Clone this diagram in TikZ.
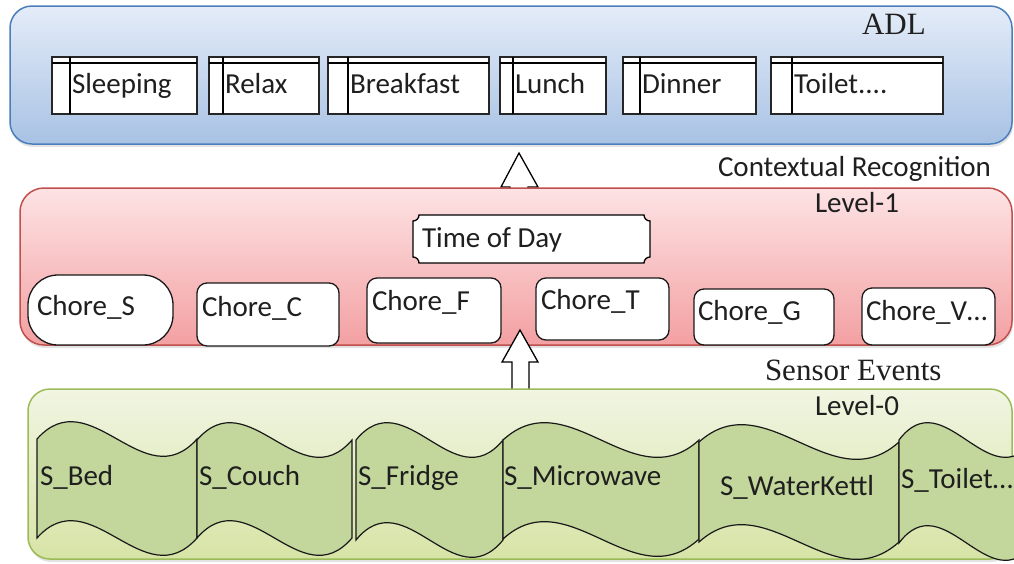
\documentclass[tikz,border=0pt]{standalone}
\usepackage{fontspec}
\setmainfont{Carlito}
\newfontfamily\titlefont{Liberation Serif}
\usetikzlibrary{calc,shadows}

\definecolor{txt}{HTML}{1F1F1F}
\definecolor{blueedge}{HTML}{4A7EBB}
\definecolor{bluetop}{HTML}{E4ECF8}
\definecolor{bluebot}{HTML}{A8C2E4}
\definecolor{rededge}{HTML}{C0504D}
\definecolor{redtop}{HTML}{FDE3E4}
\definecolor{redbot}{HTML}{F3A0A2}
\definecolor{greenedge}{HTML}{9BBB59}
\definecolor{greentop}{HTML}{F1F5E2}
\definecolor{greenbot}{HTML}{D7E4A6}
\definecolor{wavefill}{HTML}{C3D69B}

% storage-style activity box: name, left, right, divider x, label
\newcommand\adlbox[5]{%
  \node[store, anchor=north west, minimum width={#3-#2}, minimum height=57] (#1) at (#2,57) {};
  \draw[line width=1.6pt] ($(#1.north west)+(#4-#2,0)$) -- ($(#1.south west)+(#4-#2,0)$);
  \draw[line width=1.1pt] ($(#1.north west)+(0,6)$) -- ($(#1.north east)+(0,6)$);
  \node[anchor=base west] (#1-label) at ($(#1.north west)+(#4-#2+2,36)$) {#5};
}

% chore box: name, left, top, width, height, corner radius, label dx, label dy, label
\newcommand\chorebox[9]{%
  \node[chore, rounded corners=#6, anchor=north west, minimum width=#4, minimum height=#5] (#1) at (#2,#3) {};
  \node[anchor=base west] (#1-label) at ($(#1.north west)+(#7,#8)$) {#9};
}

% wave-shaped sensor cell: left, right, top mid line, bottom mid line
\newcommand\wavecell[4]{%
  \draw[wave] (#1,#3) .. controls ({#1+(#2-#1)/3},{#3-60}) and ({#1+2*(#2-#1)/3},{#3+60}) .. (#2,#3)
    -- (#2,#4) .. controls ({#1+2*(#2-#1)/3},{#4+60}) and ({#1+(#2-#1)/3},{#4-60}) .. (#1,#4) -- cycle;
}

\begin{document}
\begin{tikzpicture}[x=1pt,y=-1pt,
  every node/.style={font=\fontsize{29}{34}\selectfont, text=txt, inner sep=0pt, outer sep=0pt},
  panel/.style={rectangle, rounded corners=22pt, line width=1.5pt,
    drop shadow={opacity=0.22, shadow xshift=1pt, shadow yshift=-3pt}},
  store/.style={rectangle, draw=black!85, line width=1.1pt, fill=white},
  chore/.style={rectangle, draw=black!90, line width=1.3pt, fill=white},
  blockarrow/.style={draw=black, fill=white, line width=1.3pt, line join=miter},
  wave/.style={draw=black!90, fill=wavefill, line width=1.2pt},
  serifbig/.style={font=\titlefont\fontsize{31}{36}\selectfont}
]
\useasboundingbox (0,0) rectangle (1014,563);

% ---------- ADL layer ----------
\node[panel, draw=blueedge, top color=bluetop, bottom color=bluebot,
      anchor=north west, minimum width=1002, minimum height=138] (adl) at (10,6) {};
\node[serifbig, anchor=base west] (adl-title) at (862,34) {ADL};

\adlbox{sleep}{52}{197}{70}{Sleeping}
\adlbox{relax}{209}{319}{223}{Relax}
\adlbox{breakfast}{328}{489}{348}{Breakfast}
\adlbox{lunch}{500}{606}{513}{Lunch}
\adlbox{dinner}{623}{756}{640}{Dinner}
\adlbox{toilet}{771}{943}{792}{Toilet....}

% upward arrow from the recognition layer into the ADL layer
\coordinate (up1-tip) at (519,153);
\path[blockarrow] (510,230) -- (510,187) -- (501,187) -- (up1-tip) -- (538,187)
  -- (528,187) -- (528,230) -- cycle;

\node[anchor=base west] (ctx-title) at (718,176) {Contextual Recognition};

% ---------- Level-1 layer ----------
\node[panel, rounded corners=24pt, draw=rededge, top color=redtop, bottom color=redbot,
      anchor=north west, minimum width=992, minimum height=157] (lvl1) at (20,188) {};
\node[anchor=base west] (lvl1-title) at (815,212) {Level-1};

% time of day plaque
\node[anchor=north west, minimum width=237, minimum height=48] (tod) at (413,215) {};
\draw[line width=1.3pt, fill=white]
  ($(tod.north west)+(6,0)$) -- ($(tod.north east)+(-6,0)$)
  arc[start angle=180, end angle=90, radius=6]
  -- ($(tod.south east)+(0,-6)$)
  arc[start angle=270, end angle=180, radius=6]
  -- ($(tod.south west)+(6,0)$)
  arc[start angle=0, end angle=-90, radius=6]
  -- ($(tod.north west)+(0,6)$)
  arc[start angle=90, end angle=0, radius=6] -- cycle;
\node[anchor=base west] (tod-label) at ($(tod.north west)+(9,32)$) {Time of Day};

\chorebox{choreS}{28}{275}{145}{70}{30pt}{9}{40}{Chore\_S}
\chorebox{choreC}{197}{283}{142}{63}{10pt}{5}{33}{Chore\_C}
\chorebox{choreF}{367}{278}{134}{65}{10pt}{5}{32}{Chore\_F}
\chorebox{choreT}{536}{278}{133}{62}{10pt}{5}{31}{Chore\_T}
\chorebox{choreG}{694}{289}{140}{56}{10pt}{4}{31}{Chore\_G}
\chorebox{choreV}{862}{288}{133}{57}{10pt}{4}{32}{Chore\_V…}

% upward arrow from the sensor layer into Level-1
\coordinate (up0-tip) at (520,330);
\path[blockarrow] (512,395) -- (512,362) -- (502,362) -- (up0-tip) -- (538,362)
  -- (529,362) -- (529,395) -- cycle;

\node[serifbig, anchor=base west] (sensor-title) at (765,380) {Sensor Events};

% ---------- Level-0 layer ----------
\node[panel, draw=greenedge, top color=greentop, bottom color=greenbot,
      anchor=north west, minimum width=984, minimum height=170] (lvl0) at (28,389) {};
\node[anchor=base west] (lvl0-title) at (815,415) {Level-0};

\begin{scope}
  \clip (0,0) rectangle (1014,563);
  \wavecell{37}{197}{439}{538}
  \wavecell{197}{352}{440}{538}
  \wavecell{356}{503}{440}{540}
  \wavecell{503}{699}{440}{539}
  \wavecell{699}{899}{442}{542}
  \wavecell{899}{1034}{440}{543}
\end{scope}

\node[anchor=base west] (s-bed) at (40,485) {S\_Bed};
\node[anchor=base west] (s-couch) at (199,485) {S\_Couch};
\node[anchor=base west] (s-fridge) at (358,485) {S\_Fridge};
\node[anchor=base west] (s-micro) at (504,485) {S\_Microwave};
\node[anchor=base west] (s-kettle) at (720,495) {S\_WaterKettl};
\node[anchor=base west] (s-toilet) at (901,488) {S\_Toilet…};

\end{tikzpicture}
\end{document}
